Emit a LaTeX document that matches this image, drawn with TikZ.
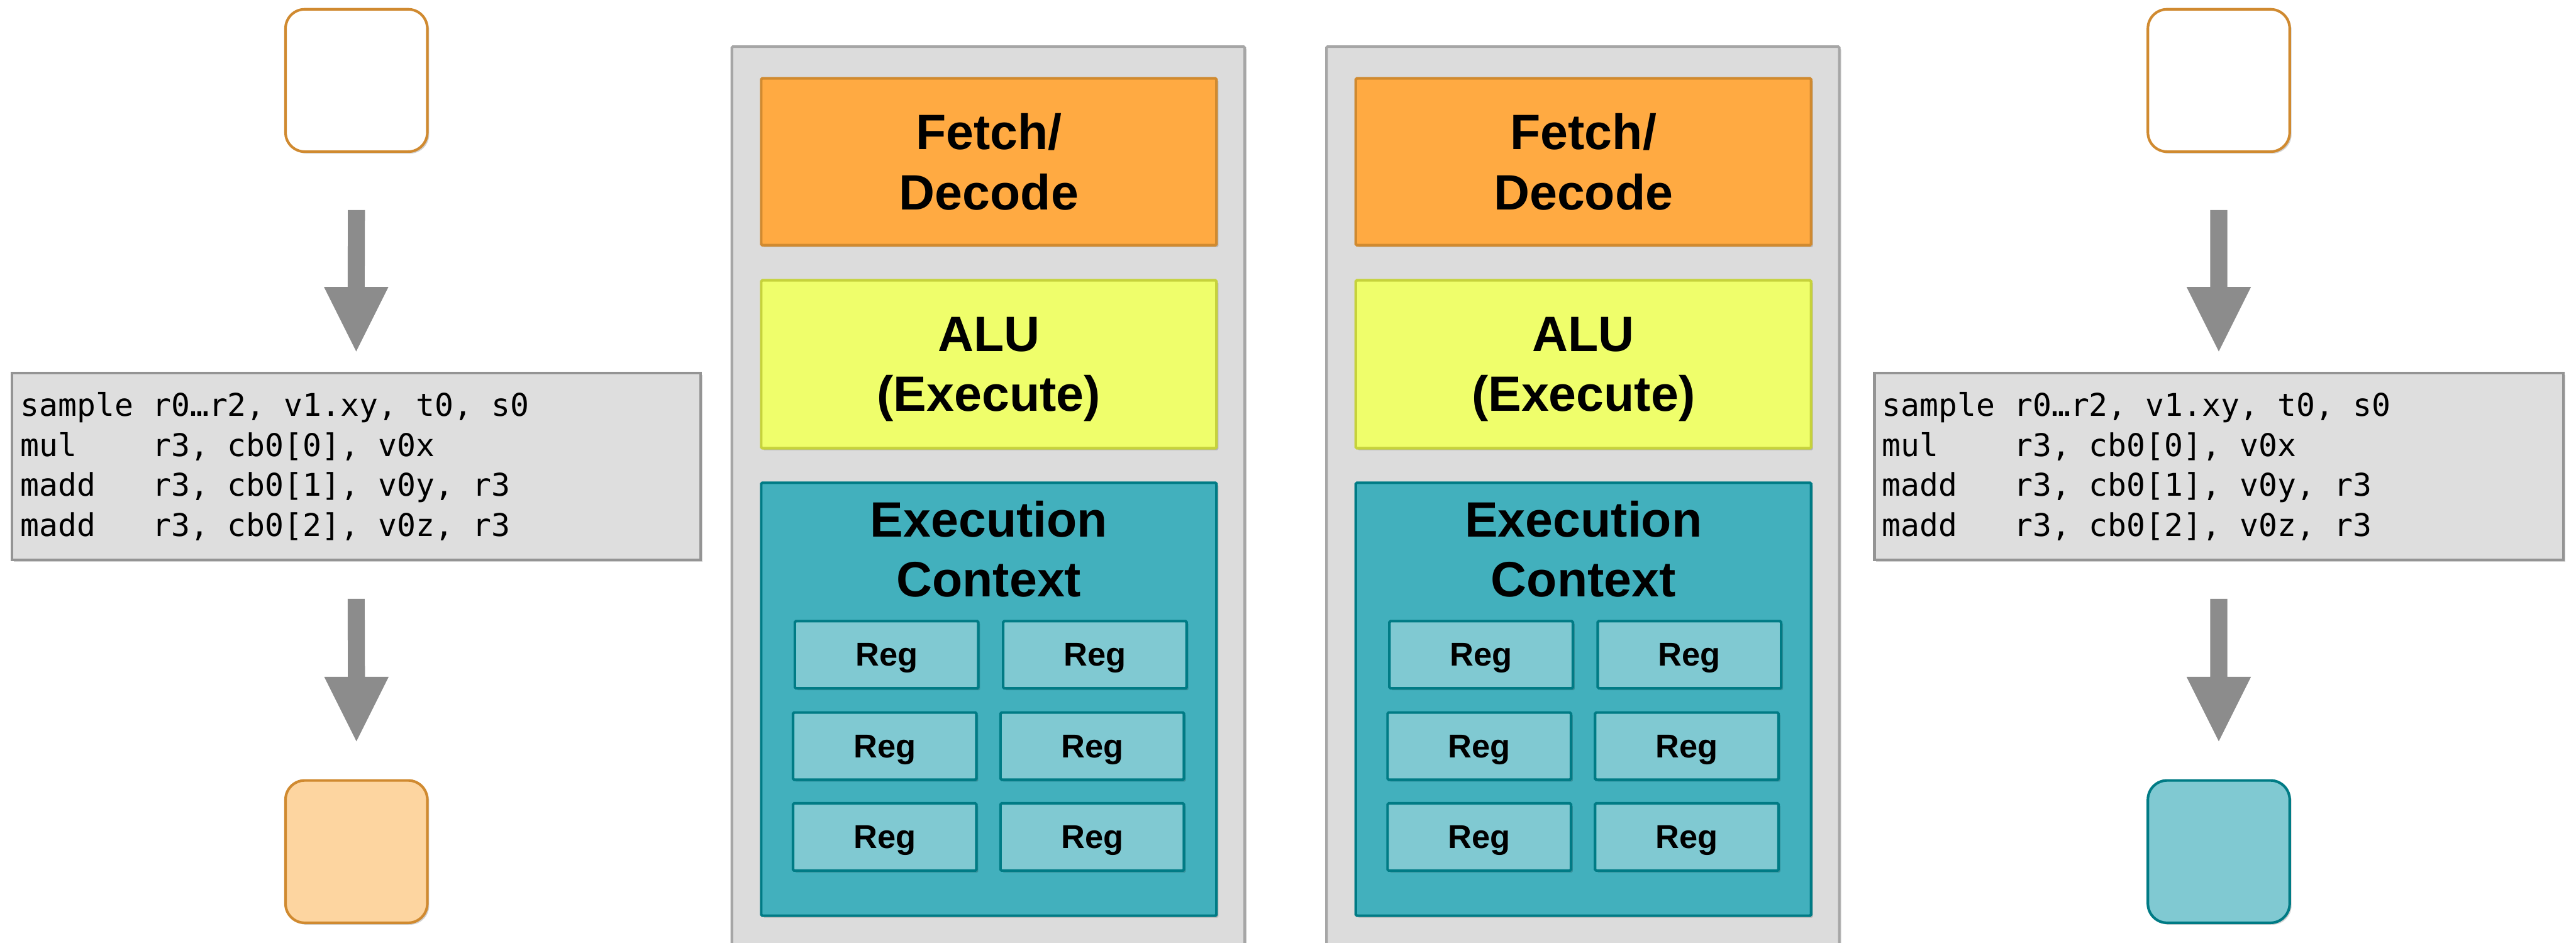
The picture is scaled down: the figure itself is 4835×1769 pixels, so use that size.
\documentclass[tikz,border=0pt]{standalone}
\usepackage{fontspec}
\setmainfont{Liberation Sans}
\newfontfamily\codefont{DejaVu Sans Mono}
\usetikzlibrary{calc,shadows}

\definecolor{panelfill}{HTML}{DCDCDC}
\definecolor{panelline}{HTML}{A6A6A6}
\definecolor{fetchfill}{HTML}{FFAA42}
\definecolor{fetchline}{HTML}{D08A30}
\definecolor{alufill}{HTML}{EFFE6B}
\definecolor{aluline}{HTML}{C6D23C}
\definecolor{ctxfill}{HTML}{42B0BD}
\definecolor{ctxline}{HTML}{007B85}
\definecolor{regfill}{HTML}{80C9D2}
\definecolor{codefill}{HTML}{DEDEDE}
\definecolor{codeline}{HTML}{949494}
\definecolor{arrowfill}{HTML}{8C8C8C}
\definecolor{outfill}{HTML}{FDD5A0}

\newcommand\ttlfnt{\bfseries\fontsize{26.5}{32}\selectfont}
\newcommand\regfnt{\bfseries\fontsize{17.6}{21}\selectfont}
\newcommand\codefnt{\codefont\fontsize{16.7}{21.3}\selectfont}

\tikzset{
  softshadow/.style={drop shadow={shadow xshift=0.035cm, shadow yshift=-0.035cm, opacity=0.18, fill=black}},
  unit/.style={rectangle, line width=1.4pt, inner sep=0pt, rounded corners=0.6pt, softshadow},
  panelbox/.style={unit, draw=panelline, fill=panelfill, minimum width=9.62cm, minimum height=17.12cm},
  fetchbox/.style={unit, draw=fetchline, fill=fetchfill, minimum width=8.54cm, minimum height=3.13cm, align=center, font=\ttlfnt},
  alubox/.style={unit, draw=aluline, fill=alufill, minimum width=8.54cm, minimum height=3.15cm, align=center, font=\ttlfnt, text depth=0pt},
  ctxbox/.style={unit, draw=ctxline, fill=ctxfill, minimum width=8.54cm, minimum height=8.12cm},
  ctxtitle/.style={inner sep=0pt, align=center, font=\ttlfnt, anchor=north},
  regbox/.style={unit, draw=ctxline, fill=regfill, minimum width=3.44cm, minimum height=1.26cm, font=\regfnt, text depth=0pt},
  frag/.style={rectangle, line width=1.4pt, rounded corners=0.36cm, minimum width=2.66cm, minimum height=2.67cm, inner sep=0pt, softshadow},
  codebox/.style={unit, rounded corners=0pt, draw=codeline, fill=codefill, minimum width=12.92cm, minimum height=3.5cm},
  codetext/.style={inner sep=0pt, anchor=west, align=left, font=\codefnt},
  flowarrow/.style={fill=arrowfill},
}

% fat downward arrow from #1 (shaft top) to #2 (tip)
\newcommand\fatarrow[2]{%
  \fill[flowarrow] ($(#1)+(-16,0)$) -- ($(#2)+(-16,-121)$) -- ($(#2)+(-60.5,-121)$)
    -- (#2) -- ($(#2)+(60.5,-121)$) -- ($(#2)+(16,-121)$) -- ($(#1)+(16,0)$) -- cycle;}

\begin{document}
\begin{tikzpicture}[x=0.01cm, y=-0.01cm]
\clip (0,0) rectangle (4835,1769);
\fill[white] (0,0) rectangle (4835,1769);

% two processor cores
\foreach \i/\dx in {1/0, 2/1116} {
  \node[panelbox] (panel\i) at (1855+\dx, 944) {};
  \node[fetchbox] (fetch\i) at (1856+\dx, 303.5) {Fetch/\\Decode};
  \node[alubox] (alu\i) at (1856+\dx, 683.5) {ALU\\(Execute)};
  \node[ctxbox] (ctx\i) at (1856+\dx, 1312) {};
  \node[ctxtitle] (ctxt\i) at (1856+\dx, 939) {Execution\\Context};
  \node[regbox] (reg\i a) at (1664+\dx, 1228.5) {Reg};
  \node[regbox] (reg\i b) at (2055+\dx, 1228.5) {Reg};
  \node[regbox] (reg\i c) at (1660.5+\dx, 1400) {Reg};
  \node[regbox] (reg\i d) at (2050+\dx, 1400) {Reg};
  \node[regbox] (reg\i e) at (1660.5+\dx, 1570.5) {Reg};
  \node[regbox] (reg\i f) at (2050+\dx, 1570.5) {Reg};
}

% left instruction stream
\node[frag, draw=fetchline, fill=white] (in1) at (669, 151) {};
\node[codebox] (code1) at (668.5, 875) {};
\node[codetext] (code1t) at ($(code1.west)+(18,0)$)
  {sample r0…r2, v1.xy, t0, s0\\mul\ \ \ \ r3, cb0[0], v0x\\madd\ \ \ r3, cb0[1], v0y, r3\\madd\ \ \ r3, cb0[2], v0z, r3};
\node[frag, draw=fetchline, fill=outfill] (out1) at (669, 1598) {};

% right instruction stream
\node[frag, draw=fetchline, fill=white] (in2) at (4164.5, 151) {};
\node[codebox] (code2) at (4164.5, 875) {};
\node[codetext] (code2t) at ($(code2.west)+(16,0)$)
  {sample r0…r2, v1.xy, t0, s0\\mul\ \ \ \ r3, cb0[0], v0x\\madd\ \ \ r3, cb0[1], v0y, r3\\madd\ \ \ r3, cb0[2], v0z, r3};
\node[frag, draw=ctxline, fill=regfill] (out2) at (4164.5, 1598) {};

% flow arrows
\foreach \s in {1,2} {
  \coordinate (a\s top) at ($(in\s.south)+(0,107)$);
  \coordinate (a\s tip) at ($(code\s.north)+(0,-38)$);
  \coordinate (b\s top) at ($(code\s.south)+(0,71)$);
  \coordinate (b\s tip) at ($(out\s.north)+(0,-71)$);
  \fatarrow{a\s top}{a\s tip}
  \fatarrow{b\s top}{b\s tip}
}
\end{tikzpicture}
\end{document}
